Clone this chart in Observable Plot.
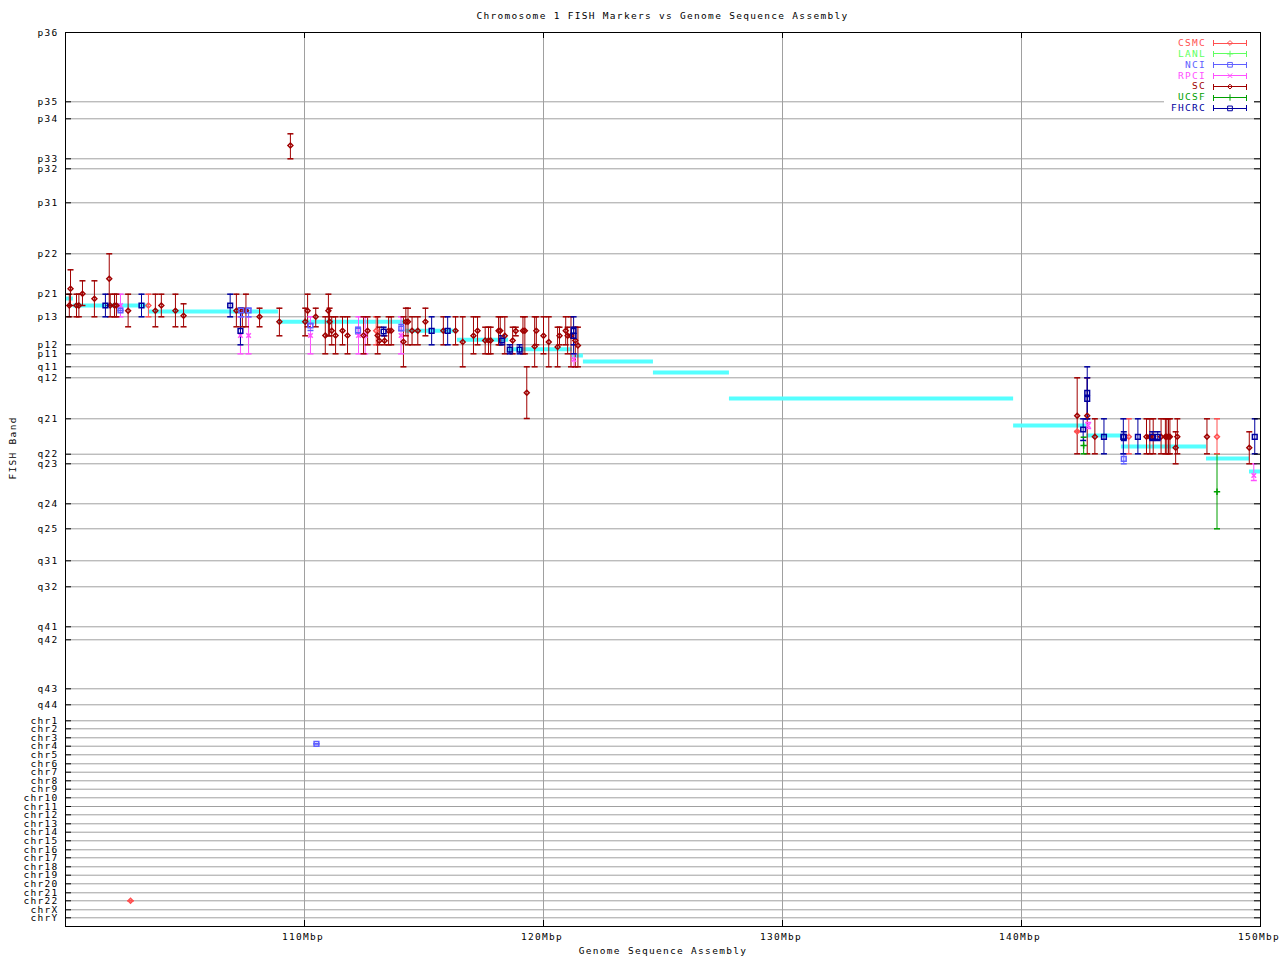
<!DOCTYPE html>
<html><head><meta charset="utf-8">
<script src="https://cdn.jsdelivr.net/npm/d3@7"></script>
<script src="https://cdn.jsdelivr.net/npm/@observablehq/plot@0.6"></script>
<style>
body{margin:0;background:#fff;width:1280px;height:960px;overflow:hidden;position:relative;font-family:"DejaVu Sans Mono",monospace;}
#title{height:24px;box-sizing:border-box;padding:8px 20px 0 65px;line-height:16px;text-align:center;font-size:9.5px;letter-spacing:1.3px;color:#000;}
#chart svg{display:block}
#legend{position:absolute;left:0;top:0;pointer-events:none}
</style></head><body>
<div id="title">Chromosome 1 FISH Markers vs Genome Sequence Assembly</div>
<div id="chart"></div>
<script>
// FISH band axis: labels and their positions (band units, p36 = 0 at top)
const bandLabels = ["p36","p35","p34","p33","p32","p31","p22","p21","p13","p12","p11","q11","q12","q21","q22","q23","q24","q25","q31","q32","q41","q42","q43","q44",
  "chr1","chr2","chr3","chr4","chr5","chr6","chr7","chr8","chr9","chr10","chr11","chr12","chr13","chr14","chr15","chr16","chr17","chr18","chr19","chr20","chr21","chr22","chrX","chrY"];
const bandPos = [0,69.3,86.3,126.3,136.3,170.3,221.3,261.7,284.3,312.3,321.3,334.3,345.3,386.3,421.7,431.3,471.3,496.3,528.3,554.3,594.3,607.3,656.3,672.3,
  688.3,696.3,705.3,713.7,722.3,731.3,739.7,748.3,756.7,765.3,774,782.3,791.3,799.7,808.3,817.3,825.3,834.3,842.7,851.3,860.3,868.3,877.3,885.3];
const bandMax = 894;

const xTicks = [110,120,130,140,150];

// Sources (legend order), colours and symbols
const sources = ["CSMC","LANL","NCI","RPCI","SC","UCSF","FHCRC"];
const colors  = ["#ff5050","#60ff60","#6060ff","#ff50ff","#a00000","#00a000","#0000a0"];
const symbols = ["diamond2","plus","square2","times","diamond2","plus","square2"];

// Markers per source: [Mbp, band, band low, band high]
const CSMC = [
 [102.72,868.3,868.3,868.3],[103.47,273,261.7,284.3],[113.00,298.3,284.3,312.3],
 [142.33,399,399,399],[144.49,404.3,386.3,421.3],[148.18,404.3,386.3,421.3]
];
const LANL = [];
const NCI = [
 [102.30,278,278,278],[107.35,278,275.7,284.3],[107.66,278,275.7,284.3],[110.25,293,291.3,298],
 [110.50,711.3,711.3,711.3],[112.24,298,294.7,301.3],[114.05,296,292,298],[144.28,426.3,421.3,431.3]
];
const RPCI = [
 [102.30,273,261.7,284.3],[107.32,303,284.3,321.3],[107.66,303,284.3,321.3],[110.25,303,284.3,321.3],
 [112.26,303,284.3,321.3],[112.54,303,284.3,321.3],[114.04,303,284.3,321.3],[121.27,327,321.3,334.3],
 [142.79,393,390,396],[149.72,443,431.3,448]
];
const SC = [
 [100.16,273,261.7,284.3],[100.21,256.3,237.3,273],[100.46,273,261.7,284.3],[100.56,273,261.7,284.3],
 [100.71,261.3,248.3,273],[101.21,266.3,248.3,284.3],[101.83,246.3,221.3,273],[101.87,273,261.7,284.3],
 [102.05,273,261.7,284.3],[102.13,273,261.7,284.3],[102.62,278.3,261.7,294.3],[103.76,278.3,261.7,294.3],
 [104.01,273,261.7,284.3],[104.60,278.3,261.7,294.3],[104.94,283.3,271.3,294.3],[107.15,278.3,261.7,294.3],
 [107.40,278.3,275.7,294.3],[107.55,278.3,261.7,294.3],[108.12,284.3,275.7,294.3],[108.95,289.3,275.7,303.3],
 [109.41,113,101.3,126.3],[110.03,289.3,275.7,303.3],[110.13,278.3,261.7,294.3],[110.47,284.3,275.7,294.3],
 [110.87,303,284.3,321.3],[111.00,278.3,261.7,303.3],[111.05,289.3,275.7,303.3],[111.14,298.3,284.3,312.3],
 [111.30,303,284.3,321.3],[111.59,298.3,284.3,312.3],[111.80,303,284.3,321.3],[112.47,303,284.3,321.3],
 [112.64,298.3,284.3,312.3],[113.06,303,284.3,321.3],[113.13,308.3,294.7,312.3],[113.35,308.3,303.3,312.3],
 [113.52,298.3,284.3,312.3],[113.63,298.3,284.3,312.3],[114.14,309.3,284.3,334.3],[114.24,289.3,275.7,303.3],
 [114.33,289.3,275.7,312.3],[114.50,298.3,284.3,312.3],[114.74,298.3,284.3,312.3],[115.06,289.3,275.7,303.3],
 [115.81,298.3,284.3,312.3],[116.32,298.3,284.3,312.3],[116.62,309.5,284.3,334.3],[117.07,303.3,284.3,321.3],
 [117.24,298.3,284.3,312.3],[117.56,308,294.7,321.3],[117.70,308,294.7,321.3],[117.79,308,294.7,321.3],
 [118.12,298.3,284.3,312.3],[118.19,298.3,284.3,312.3],[118.38,303.3,284.3,321.3],[118.71,308,294.7,321.3],
 [118.84,298.5,294.7,303.3],[119.14,298.3,284.3,321.3],[119.22,298.3,284.3,321.3],[119.30,360.3,334.3,386],
 [119.63,314,284.3,334.3],[119.70,298.3,284.3,312.3],[120.00,303.3,284.3,321.3],[120.22,309.5,284.3,334.3],
 [120.59,314.5,294.7,334.3],[120.67,303.3,294.7,312.3],[120.93,298.3,284.3,312.3],[121.01,303.3,294.7,321.3],
 [121.15,303.3,284.3,334.3],[121.33,308,294.7,334.3],[121.44,313,294.7,334.3],
 [142.33,383.3,345.3,421.3],[142.75,383.3,345.3,421.3],[143.07,404.3,386.3,421.3],[145.23,404.3,386.3,421.3],
 [145.37,404.3,386.3,421.3],[145.51,404.3,386.3,421.3],[145.84,404.3,386.3,421.3],[146.02,404.3,386.3,421.3],
 [146.08,404.3,386.3,421.3],[146.15,404.3,386.3,421.3],[146.21,404.3,386.3,421.3],[146.45,415.3,399.3,431.3],
 [146.52,404.3,386.3,421.3],[147.76,404.3,386.3,421.3],[149.53,415.3,399.3,431.3]
];
const UCSF = [
 [142.60,413,404.7,421.3],[148.18,459.3,421.3,496.3]
];
const FHCRC = [
 [101.67,273,261.7,284.3],[103.18,273,261.7,284.3],[106.89,273,261.7,284.3],[107.32,298.3,275.7,312.3],
 [113.31,299,294.7,303.3],[115.32,298.3,284.3,312.3],[115.99,298.3,284.3,312.3],[118.26,308,303.3,312.3],
 [118.59,317.2,312.3,321.3],[119.00,317.2,312.3,321.3],[121.26,298.3,284.3,321.3],[121.26,303.3,294.7,312.3],
 [142.58,397,386.3,408],[142.75,360.3,334.3,386.3],[142.75,366.3,345.3,386.3],[143.45,404.3,386.3,421.3],
 [144.26,404.3,386.3,421.3],[144.28,404.3,399.3,408],[144.87,404.3,386.3,421.3],[145.47,404.3,399.3,408],
 [145.70,404.3,399.3,408],[149.76,404.3,386.3,421.3]
];

// Genome sequence assembly steps
const asmStart = [100.0,100.33,103.47,108.91,114.23,116.40,118.54,121.21,121.67,124.60,127.78,139.67,142.72,144.18,147.74,149.54];
const asmEnd   = [100.33,103.47,108.91,114.23,116.40,118.54,121.21,121.67,124.60,127.78,139.67,142.72,144.18,147.74,149.54,150.0];
const asmBand  = [266,273,279,289.3,298.3,307.3,316.7,323,329,340,366,393,403,414,426,439];

const seriesData = [CSMC, LANL, NCI, RPCI, SC, UCSF, FHCRC];
const rows = [];
sources.forEach((s, i) => seriesData[i].forEach(([mbp, band, lo, hi]) => rows.push({source: s, mbp, band, lo, hi})));
const asm = asmStart.map((s, i) => ({start: s, end: asmEnd[i], band: asmBand[i]}));
const labelOf = new Map(bandPos.map((p, i) => [p, bandLabels[i]]));

const cap = {draw(ctx, size) { const w = Math.sqrt(size / Math.PI); ctx.moveTo(-w, 0); ctx.lineTo(w, 0); }};

const W = 1280, H = 936, mT = 8, mB = 34, mL = 65, mR = 20;
const fw = W - mL - mR, fh = H - mT - mB;
const squareSrc = new Set(["NCI","FHCRC"]);
const rSmall = 2.2, rSquare = 3;

const chart = Plot.plot({
  width: W, height: H, marginTop: mT, marginBottom: mB, marginLeft: mL, marginRight: mR,
  style: {fontFamily: "DejaVu Sans Mono, monospace", fontSize: "9.5px", letterSpacing: "1.3px", background: "white", color: "black"},
  x: {domain: [100, 150]},
  y: {domain: [0, bandMax], reverse: true},
  color: {domain: sources, range: colors},
  symbol: {domain: sources, range: symbols},
  marks: [
    Plot.ruleY(bandPos, {stroke: "#a0a0a0"}),
    Plot.ruleX(xTicks.filter(d => d < 150), {stroke: "#a0a0a0"}),
    Plot.ruleY(asm, {y: "band", x1: "start", x2: "end", stroke: "#55ffff", strokeWidth: 4}),
    Plot.ruleX(rows, {x: "mbp", y1: "lo", y2: "hi", stroke: "source"}),
    Plot.dot(rows, {x: "mbp", y: "lo", symbol: cap, r: 3, stroke: "source", fill: "none"}),
    Plot.dot(rows, {x: "mbp", y: "hi", symbol: cap, r: 3, stroke: "source", fill: "none"}),
    Plot.dot(rows.filter(d => !squareSrc.has(d.source)), {x: "mbp", y: "band", symbol: "source", r: rSmall, stroke: "source", fill: "none"}),
    Plot.dot(rows.filter(d => squareSrc.has(d.source)), {x: "mbp", y: "band", symbol: "source", r: rSquare, stroke: "source", fill: "none"}),
    Plot.frame({stroke: "black"}),
    Plot.tickY(bandPos, {stroke: "black", insetRight: fw - 6}),
    Plot.tickY(bandPos, {stroke: "black", insetLeft: fw - 6}),
    Plot.tickX(xTicks.filter(d => d < 150), {stroke: "black", insetTop: fh - 6}),
    Plot.tickX(xTicks.filter(d => d < 150), {stroke: "black", insetBottom: fh - 6}),
    Plot.axisY({ticks: bandPos, tickFormat: d => labelOf.get(d), tickSize: 0, tickPadding: 7, label: null}),
    Plot.axisX({ticks: xTicks, tickFormat: d => d + "Mbp", tickSize: 0, tickPadding: 7, dx: -1.5, label: null}),
    Plot.text(["FISH Band"], {frameAnchor: "left", dx: -53, rotate: -90}),
    Plot.text(["Genome Sequence Assembly"], {frameAnchor: "bottom", dy: 27})
  ]
});
document.getElementById("chart").appendChild(chart);

// Legend (top right, inside plot)
const symMap = {diamond2: d3.symbolDiamond2, plus: d3.symbolPlus, square2: d3.symbolSquare2, times: d3.symbolTimes};
const lg = d3.select("body").append("svg").attr("id", "legend").attr("width", 1280).attr("height", 960)
  .style("font-family", "DejaVu Sans Mono, monospace").style("font-size", "9.5px").style("letter-spacing", "1.3px");
lg.append("rect").attr("x", 1164).attr("y", 36).attr("width", 90).attr("height", 78).attr("fill", "white");
sources.forEach((s, i) => {
  const cy = 42.5 + i * 10.9, c = colors[i];
  lg.append("text").attr("x", 1206).attr("y", cy).attr("dy", "0.35em").attr("text-anchor", "end").attr("fill", c).text(s);
  const g = lg.append("g").attr("stroke", c).attr("fill", "none").attr("shape-rendering", "crispEdges");
  g.append("line").attr("x1", 1213.5).attr("x2", 1246.5).attr("y1", cy + 0.5).attr("y2", cy + 0.5);
  g.append("line").attr("x1", 1213.5).attr("x2", 1213.5).attr("y1", cy - 2.5).attr("y2", cy + 3.5);
  g.append("line").attr("x1", 1246.5).attr("x2", 1246.5).attr("y1", cy - 2.5).attr("y2", cy + 3.5);
  const r = squareSrc.has(s) ? rSquare : rSmall;
  lg.append("path").attr("transform", `translate(1230,${cy + 0.5})`)
    .attr("d", d3.symbol(symMap[symbols[i]], r * r * Math.PI)()).attr("stroke", c).attr("fill", "none");
});
</script></body></html>
